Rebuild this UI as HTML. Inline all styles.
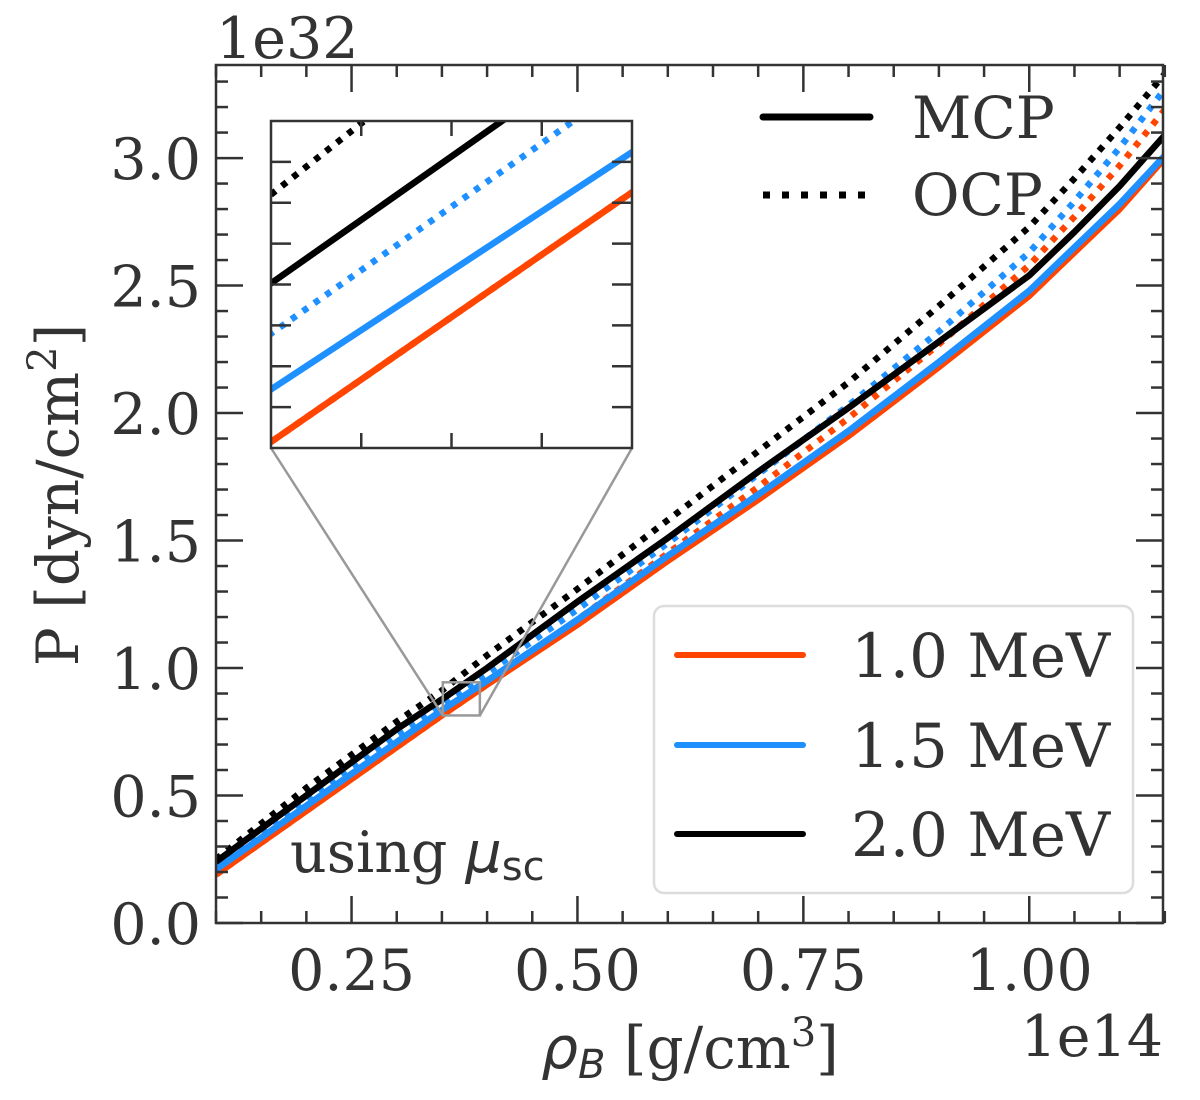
<!DOCTYPE html>
<html><head><meta charset="utf-8"><style>
html,body{margin:0;padding:0;background:#fff;width:1200px;height:1100px;overflow:hidden;position:relative;}
svg{display:block;}
svg text{font-family:"DejaVu Serif","Liberation Serif",serif;fill:#333;}
</style></head><body>
<svg id="chart" width="1200" height="1100" xmlns="http://www.w3.org/2000/svg" style="position:absolute;left:0;top:0">
<defs>
<clipPath id="mainClip"><rect x="216" y="65" width="947" height="858"/></clipPath>
<clipPath id="insetClip"><rect x="271" y="121" width="361" height="327"/></clipPath>
</defs>
<g id="main"></g>
<g id="overlay">
<text x="216" y="58" font-size="57">1e32</text>
<text x="1163" y="1056" font-size="57" text-anchor="end">1e14</text>
<text transform="translate(78,495) rotate(-90)" font-size="58" text-anchor="middle">P [dyn/cm<tspan dy="-22" font-size="40">2</tspan><tspan dy="22">]</tspan></text>
<text x="690" y="1068" font-size="58" text-anchor="middle"><tspan font-style="italic" font-family="DejaVu Sans">ρ</tspan><tspan font-style="italic" font-family="DejaVu Sans" font-size="40" dy="10">B</tspan><tspan dy="-10"> [g/cm</tspan><tspan dy="-22" font-size="40">3</tspan><tspan dy="22">]</tspan></text>
<text x="290" y="872" font-size="57">using <tspan font-style="italic" font-family="DejaVu Sans">μ</tspan><tspan font-family="DejaVu Sans" font-size="40" dy="8">sc</tspan></text>
<g>
<line x1="763" y1="117" x2="870" y2="117" stroke="#000" stroke-width="7" stroke-linecap="round"/>
<text x="912" y="138" font-size="58">MCP</text>
<line x1="763" y1="195" x2="870" y2="195" stroke="#000" stroke-width="7" stroke-dasharray="7 12"/>
<text x="912" y="215" font-size="58">OCP</text>
</g>
<g>
<rect x="654" y="606" width="479" height="287" rx="10" fill="#fff" fill-opacity="0.8" stroke="#ddd" stroke-width="2.5"/>
<line x1="677" y1="655" x2="803" y2="655" stroke="#ff4500" stroke-width="6" stroke-linecap="round"/>
<text x="1110" y="677" font-size="61" text-anchor="end">1.0 MeV</text>
<line x1="677" y1="745" x2="803" y2="745" stroke="#1e90ff" stroke-width="6" stroke-linecap="round"/>
<text x="1110" y="767" font-size="61" text-anchor="end">1.5 MeV</text>
<line x1="677" y1="834" x2="803" y2="834" stroke="#000" stroke-width="6" stroke-linecap="round"/>
<text x="1110" y="856" font-size="61" text-anchor="end">2.0 MeV</text>
</g>
</g>
</svg>
<script>
const xs = [0.1,0.2,0.3,0.35,0.4,0.5,0.6,0.7,0.8,0.9,1.0,1.05,1.1,1.15];
const mcp10 = [0.19,0.44,0.69,0.814,0.935,1.17,1.42,1.66,1.91,2.18,2.46,2.63,2.80,3.00];
const mcp15 = [0.21,0.46,0.71,0.835,0.95,1.19,1.44,1.68,1.93,2.20,2.48,2.65,2.82,3.01];
const mcp20 = [0.24,0.50,0.76,0.877,1.00,1.26,1.51,1.77,2.02,2.28,2.54,2.71,2.89,3.09];
const ocp10 = [0.19,0.44,0.69,0.814,0.935,1.19,1.45,1.71,1.98,2.27,2.58,2.77,2.97,3.19];
const ocp15 = [0.23,0.48,0.74,0.857,0.98,1.23,1.49,1.76,2.03,2.32,2.63,2.83,3.04,3.27];
const ocp20 = [0.25,0.53,0.79,0.912,1.05,1.31,1.58,1.85,2.12,2.42,2.73,2.92,3.12,3.33];
const xTicks = [0.25,0.5,0.75,1.0];
const xTickLabels = ["0.25","0.50","0.75","1.00"];
const yTicks = [0,0.5,1.0,1.5,2.0,2.5,3.0];
const yTickLabels = ["0.0","0.5","1.0","1.5","2.0","2.5","3.0"];

const NS="http://www.w3.org/2000/svg";
const g=document.getElementById('main');
function el(tag,attrs,parent){const e=document.createElementNS(NS,tag);for(const k in attrs)e.setAttribute(k,attrs[k]);(parent||g).appendChild(e);return e;}
const L=216,R=1163,T=65,B=923,X0=0.1,X1=1.148,Y0=0,Y1=3.365;
const sx=v=>L+(v-X0)/(X1-X0)*(R-L);
const sy=v=>B-(v-Y0)/(Y1-Y0)*(B-T);
const IL=271,IR=632,IT=121,IB=448,IX0=0.351,IX1=0.392,IY0=0.814,IY1=0.944;
const isx=v=>IL+(v-IX0)/(IX1-IX0)*(IR-IL);
const isy=v=>IB-(v-IY0)/(IY1-IY0)*(IB-IT);
const series=[
 {n:'ocp-2.0',d:ocp20,c:'#000',dot:true},{n:'ocp-1.5',d:ocp15,c:'#1e90ff',dot:true},{n:'ocp-1.0',d:ocp10,c:'#ff4500',dot:true},
 {n:'mcp-1.0',d:mcp10,c:'#ff4500'},{n:'mcp-1.5',d:mcp15,c:'#1e90ff'},{n:'mcp-2.0',d:mcp20,c:'#000'}];
function drawSeries(fx,fy,clip,prefix){
 const grp=el('g',{'clip-path':'url(#'+clip+')'});
 
 
 series.forEach(s=>{
  const pts=xs.map((x,i)=>fx(x).toFixed(1)+','+fy(s.d[i]).toFixed(1)).join(' ');
  const p=el('polyline',{points:pts,fill:'none',stroke:s.c,'stroke-width':6.5,'stroke-linejoin':'round'},grp);
  if(s.dot)p.setAttribute('stroke-dasharray','6 8');
  
  
 });
}
drawSeries(sx,sy,'mainClip','main');
const tc='#333';
for(let v=0.1;v<=1.151;v+=0.05){const x=sx(v);const major=xTicks.some(t=>Math.abs(t-v)<1e-6);const len=major?27:12;
 el('line',{x1:x,x2:x,y1:B,y2:B-len,stroke:tc,'stroke-width':2.5});el('line',{x1:x,x2:x,y1:T,y2:T+len,stroke:tc,'stroke-width':2.5});}
for(let v=0;v<=3.36;v+=0.1){const y=sy(v);const major=Math.abs(v*2-Math.round(v*2))<1e-6;const len=major?27:12;
 el('line',{x1:L,x2:L+len,y1:y,y2:y,stroke:tc,'stroke-width':2.5});el('line',{x1:R,x2:R-len,y1:y,y2:y,stroke:tc,'stroke-width':2.5});}
const frame=el('rect',{x:L,y:T,width:R-L,height:B-T,fill:'none',stroke:tc,'stroke-width':2.5});


xTicks.forEach((v,i)=>{const t=el('text',{x:sx(v),y:990,'font-size':57,'text-anchor':'middle'});t.textContent=xTickLabels[i];
 
 });
yTicks.forEach((v,i)=>{const t=el('text',{x:201,y:sy(v)+21,'font-size':57,'text-anchor':'end'});t.textContent=yTickLabels[i];
 
 });
const zr=el('rect',{x:sx(IX0),y:sy(IY1),width:sx(IX1)-sx(IX0),height:sy(IY0)-sy(IY1),fill:'none',stroke:'#999','stroke-width':2.5});


el('line',{x1:IL,y1:IB,x2:sx(IX0),y2:sy(IY0),stroke:'#999','stroke-width':2.5});
el('line',{x1:IR,y1:IB,x2:sx(IX1),y2:sy(IY0),stroke:'#999','stroke-width':2.5});
el('rect',{x:IL,y:IT,width:IR-IL,height:IB-IT,fill:'#fff',stroke:'none'});
drawSeries(isx,isy,'insetClip','inset');
for(let i=1;i<4;i++){const x=IL+(IR-IL)*i/4;el('line',{x1:x,x2:x,y1:IB,y2:IB-15,stroke:tc,'stroke-width':2.5});el('line',{x1:x,x2:x,y1:IT,y2:IT+15,stroke:tc,'stroke-width':2.5});}
for(let i=1;i<8;i++){const y=IT+(IB-IT)*i/8;el('line',{x1:IL,x2:IL+20,y1:y,y2:y,stroke:tc,'stroke-width':2.5});el('line',{x1:IR,x2:IR-20,y1:y,y2:y,stroke:tc,'stroke-width':2.5});}
const inf=el('rect',{x:IL,y:IT,width:IR-IL,height:IB-IT,fill:'none',stroke:tc,'stroke-width':2.5});


</script>
</body></html>
